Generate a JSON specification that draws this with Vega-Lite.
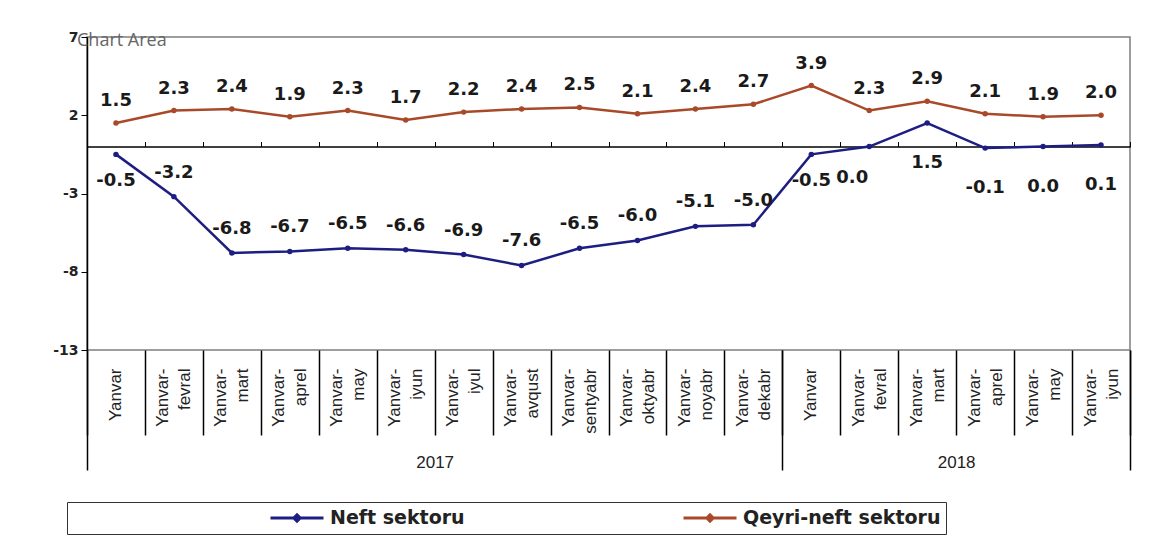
{
  "$schema": "https://vega.github.io/schema/vega-lite/v6.json",
  "width": 1043,
  "height": 313,
  "autosize": {"type": "none"},
  "padding": {"left": 87, "top": 37, "right": 43, "bottom": 201},
  "background": "white",
  "config": {
    "view": {"stroke": "#7f7f7f", "strokeWidth": 1.5},
    "axis": {"grid": false}
  },
  "title": {
    "text": "Chart Area",
    "anchor": "start",
    "frame": "group",
    "orient": "top",
    "offset": -20,
    "dx": -10,
    "font": "Open Sans",
    "fontSize": 18,
    "fontWeight": "normal",
    "color": "#666666"
  },
  "data": {
    "values": [
      {"i": 0, "period": "2017|Yanvar", "series": "Neft sektoru", "value": -0.5, "label": "-0.5"},
      {"i": 1, "period": "2017|Yanvar-|fevral", "series": "Neft sektoru", "value": -3.2, "label": "-3.2"},
      {"i": 2, "period": "2017|Yanvar-|mart", "series": "Neft sektoru", "value": -6.8, "label": "-6.8"},
      {"i": 3, "period": "2017|Yanvar-|aprel", "series": "Neft sektoru", "value": -6.7, "label": "-6.7"},
      {"i": 4, "period": "2017|Yanvar-|may", "series": "Neft sektoru", "value": -6.5, "label": "-6.5"},
      {"i": 5, "period": "2017|Yanvar-|iyun", "series": "Neft sektoru", "value": -6.6, "label": "-6.6"},
      {"i": 6, "period": "2017|Yanvar-|iyul", "series": "Neft sektoru", "value": -6.9, "label": "-6.9"},
      {"i": 7, "period": "2017|Yanvar-|avqust", "series": "Neft sektoru", "value": -7.6, "label": "-7.6"},
      {"i": 8, "period": "2017|Yanvar-|sentyabr", "series": "Neft sektoru", "value": -6.5, "label": "-6.5"},
      {"i": 9, "period": "2017|Yanvar-|oktyabr", "series": "Neft sektoru", "value": -6.0, "label": "-6.0"},
      {"i": 10, "period": "2017|Yanvar-|noyabr", "series": "Neft sektoru", "value": -5.1, "label": "-5.1"},
      {"i": 11, "period": "2017|Yanvar-|dekabr", "series": "Neft sektoru", "value": -5.0, "label": "-5.0"},
      {"i": 12, "period": "2018|Yanvar", "series": "Neft sektoru", "value": -0.5, "label": "-0.5"},
      {"i": 13, "period": "2018|Yanvar-|fevral", "series": "Neft sektoru", "value": 0.0, "label": "0.0"},
      {"i": 14, "period": "2018|Yanvar-|mart", "series": "Neft sektoru", "value": 1.5, "label": "1.5"},
      {"i": 15, "period": "2018|Yanvar-|aprel", "series": "Neft sektoru", "value": -0.1, "label": "-0.1"},
      {"i": 16, "period": "2018|Yanvar-|may", "series": "Neft sektoru", "value": 0.0, "label": "0.0"},
      {"i": 17, "period": "2018|Yanvar-|iyun", "series": "Neft sektoru", "value": 0.1, "label": "0.1"},
      {"i": 0, "period": "2017|Yanvar", "series": "Qeyri-neft sektoru", "value": 1.5, "label": "1.5"},
      {"i": 1, "period": "2017|Yanvar-|fevral", "series": "Qeyri-neft sektoru", "value": 2.3, "label": "2.3"},
      {"i": 2, "period": "2017|Yanvar-|mart", "series": "Qeyri-neft sektoru", "value": 2.4, "label": "2.4"},
      {"i": 3, "period": "2017|Yanvar-|aprel", "series": "Qeyri-neft sektoru", "value": 1.9, "label": "1.9"},
      {"i": 4, "period": "2017|Yanvar-|may", "series": "Qeyri-neft sektoru", "value": 2.3, "label": "2.3"},
      {"i": 5, "period": "2017|Yanvar-|iyun", "series": "Qeyri-neft sektoru", "value": 1.7, "label": "1.7"},
      {"i": 6, "period": "2017|Yanvar-|iyul", "series": "Qeyri-neft sektoru", "value": 2.2, "label": "2.2"},
      {"i": 7, "period": "2017|Yanvar-|avqust", "series": "Qeyri-neft sektoru", "value": 2.4, "label": "2.4"},
      {"i": 8, "period": "2017|Yanvar-|sentyabr", "series": "Qeyri-neft sektoru", "value": 2.5, "label": "2.5"},
      {"i": 9, "period": "2017|Yanvar-|oktyabr", "series": "Qeyri-neft sektoru", "value": 2.1, "label": "2.1"},
      {"i": 10, "period": "2017|Yanvar-|noyabr", "series": "Qeyri-neft sektoru", "value": 2.4, "label": "2.4"},
      {"i": 11, "period": "2017|Yanvar-|dekabr", "series": "Qeyri-neft sektoru", "value": 2.7, "label": "2.7"},
      {"i": 12, "period": "2018|Yanvar", "series": "Qeyri-neft sektoru", "value": 3.9, "label": "3.9"},
      {"i": 13, "period": "2018|Yanvar-|fevral", "series": "Qeyri-neft sektoru", "value": 2.3, "label": "2.3"},
      {"i": 14, "period": "2018|Yanvar-|mart", "series": "Qeyri-neft sektoru", "value": 2.9, "label": "2.9"},
      {"i": 15, "period": "2018|Yanvar-|aprel", "series": "Qeyri-neft sektoru", "value": 2.1, "label": "2.1"},
      {"i": 16, "period": "2018|Yanvar-|may", "series": "Qeyri-neft sektoru", "value": 1.9, "label": "1.9"},
      {"i": 17, "period": "2018|Yanvar-|iyun", "series": "Qeyri-neft sektoru", "value": 2.0, "label": "2.0"}
    ]
  },
  "layer": [
    {
      "encoding": {
        "x": {
          "field": "period",
          "type": "nominal",
          "sort": null,
          "scale": {"type": "band", "paddingInner": 0, "paddingOuter": 0},
          "axis": {
            "orient": "bottom",
            "title": null,
            "domain": false,
            "tickBand": "extent",
            "tickSize": 85,
            "tickColor": "#000000",
            "tickWidth": 1.5,
            "labelAngle": 270,
            "labelAlign": "right",
            "labelBaseline": "line-bottom",
            "labelPadding": -67,
            "labelFont": "Liberation Sans",
            "labelFontSize": 17,
            "labelLineHeight": 22,
            "labelColor": "#222222",
            "labelOverlap": false,
            "labelLimit": 200,
            "labelExpr": "length(split(datum.value, '|')) > 2 ? slice(split(datum.value, '|'), 1) : ''"
          }
        },
        "y": {
          "field": "value",
          "type": "quantitative",
          "scale": {"domain": [-13, 7], "nice": false, "zero": false},
          "axis": {
            "values": [-13, -8, -3, 2, 7],
            "title": null,
            "grid": false,
            "domainColor": "#000000",
            "domainWidth": 1.5,
            "tickColor": "#000000",
            "tickSize": 6,
            "labelFont": "DejaVu Sans",
            "labelFontSize": 14,
            "labelFontWeight": "bold",
            "labelColor": "#222222",
            "labelPadding": 3,
            "labelExpr": "replace(datum.label, '\u2212', '-')"
          }
        },
        "color": {
          "field": "series",
          "type": "nominal",
          "scale": {"domain": ["Neft sektoru", "Qeyri-neft sektoru"], "range": ["#1e1e82", "#a84a2a"]},
          "legend": {
            "orient": "none",
            "legendX": -20,
            "legendY": 465,
            "direction": "horizontal",
            "title": "\u00a0",
            "titleOrient": "left",
            "titlePadding": 197,
            "titleFontSize": 19,
            "padding": 5,
            "strokeColor": "#333333",
            "symbolType": "M-1,0H1M-0.12,0L0,-0.12L0.12,0L0,0.12Z",
            "symbolSize": 2809,
            "symbolStrokeWidth": 3,
            "clipHeight": 22,
            "labelFont": "DejaVu Sans",
            "labelFontSize": 19,
            "labelFontWeight": "bold",
            "labelColor": "#222222",
            "labelOffset": 5,
            "columnPadding": 217,
            "labelLimit": 600
          }
        }
      },
      "layer": [
        {"mark": {"type": "line", "strokeWidth": 2.5}},
        {"mark": {"type": "point", "filled": true, "size": 30, "opacity": 1}},
        {
          "transform": [{"filter": "datum.series == 'Qeyri-neft sektoru'"}],
          "mark": {"type": "text", "font": "DejaVu Sans", "fontSize": 18, "fontWeight": "bold", "baseline": "middle", "dy": -22},
          "encoding": {"text": {"field": "label", "type": "nominal"}, "color": {"value": "#1a1a1a"}}
        },
        {
          "transform": [{"filter": "datum.series == 'Neft sektoru' && datum.i >= 1 && datum.i <= 11"}],
          "mark": {"type": "text", "font": "DejaVu Sans", "fontSize": 18, "fontWeight": "bold", "baseline": "middle", "dy": -24},
          "encoding": {"text": {"field": "label", "type": "nominal"}, "color": {"value": "#1a1a1a"}}
        },
        {
          "transform": [{"filter": "datum.series == 'Neft sektoru' && (datum.i == 0 || datum.i == 12)"}],
          "mark": {"type": "text", "font": "DejaVu Sans", "fontSize": 18, "fontWeight": "bold", "baseline": "middle", "dy": 27},
          "encoding": {"text": {"field": "label", "type": "nominal"}, "color": {"value": "#1a1a1a"}}
        },
        {
          "transform": [{"filter": "datum.series == 'Neft sektoru' && datum.i == 13"}],
          "mark": {"type": "text", "font": "DejaVu Sans", "fontSize": 18, "fontWeight": "bold", "baseline": "middle", "dy": 31, "dx": -17},
          "encoding": {"text": {"field": "label", "type": "nominal"}, "color": {"value": "#1a1a1a"}}
        },
        {
          "transform": [{"filter": "datum.series == 'Neft sektoru' && datum.i >= 14"}],
          "mark": {"type": "text", "font": "DejaVu Sans", "fontSize": 18, "fontWeight": "bold", "baseline": "middle", "dy": 40},
          "encoding": {"text": {"field": "label", "type": "nominal"}, "color": {"value": "#1a1a1a"}}
        }
      ]
    },
    {
      "mark": {"type": "point", "opacity": 0},
      "encoding": {
        "x": {
          "field": "period",
          "type": "nominal",
          "sort": null,
          "scale": {"type": "band", "paddingInner": 0, "paddingOuter": 0},
          "axis": {
            "orient": "top",
            "offset": -109.55,
            "title": null,
            "labels": false,
            "tickBand": "extent",
            "tickSize": 5,
            "tickColor": "#000000",
            "tickWidth": 1,
            "domainColor": "#000000",
            "domainWidth": 1.5
          }
        },
        "y": {"field": "value", "type": "quantitative"}
      }
    },
    {
      "mark": {"type": "point", "opacity": 0},
      "encoding": {
        "x": {
          "field": "period",
          "type": "nominal",
          "sort": null,
          "scale": {"type": "band", "paddingInner": 0, "paddingOuter": 0},
          "axis": {
            "orient": "bottom",
            "title": null,
            "domain": false,
            "ticks": false,
            "labelAngle": 270,
            "labelAlign": "right",
            "labelBaseline": "middle",
            "labelPadding": 18,
            "labelFont": "Liberation Sans",
            "labelFontSize": 17,
            "labelColor": "#222222",
            "labelOverlap": false,
            "labelLimit": 200,
            "labelExpr": "length(split(datum.value, '|')) == 2 ? split(datum.value, '|')[1] : ''"
          }
        },
        "y": {"field": "value", "type": "quantitative"}
      }
    },
    {
      "mark": {"type": "point", "opacity": 0},
      "encoding": {
        "x": {
          "field": "i",
          "type": "quantitative",
          "scale": {"domain": [0, 18], "nice": false, "zero": false},
          "axis": {
            "orient": "bottom",
            "title": null,
            "domain": false,
            "grid": false,
            "values": [0, 6, 12, 15, 18],
            "tickSize": 120,
            "tickWidth": 1.5,
            "tickColor": {"condition": {"test": "datum.value == 6 || datum.value == 15", "value": "transparent"}, "value": "#000000"},
            "labelExpr": "datum.value == 6 ? '2017' : datum.value == 15 ? '2018' : ''",
            "labelPadding": -8,
            "labelBaseline": "middle",
            "labelFont": "Liberation Sans",
            "labelFontSize": 17,
            "labelColor": "#222222",
            "labelOverlap": false,
            "labelFlush": false
          }
        },
        "y": {"field": "value", "type": "quantitative"}
      }
    }
  ],
  "resolve": {"scale": {"x": "independent"}}
}
